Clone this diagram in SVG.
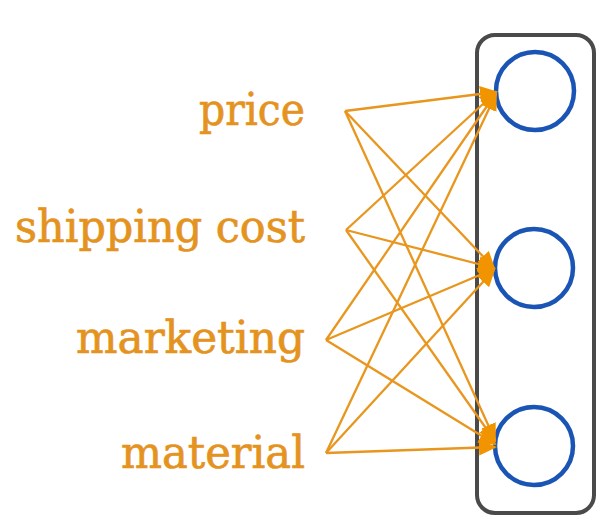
<svg xmlns="http://www.w3.org/2000/svg" width="608" height="523" viewBox="0 0 608 523">
<style>
.lbl{font-family:"DejaVu Serif","Liberation Serif",serif;font-size:45px;fill:#E4931F;stroke:#E4931F;stroke-width:0.7;text-anchor:end}
.edge{stroke:#E8961E;stroke-width:2.3;fill:none;marker-end:url(#arr)}
.node{fill:none;stroke:#1A55B5;stroke-width:4.5}
</style>
<defs>
<marker id="arr" markerUnits="userSpaceOnUse" markerWidth="18" markerHeight="16" refX="16" refY="8" orient="auto" viewBox="0 0 18 16">
<path d="M0,0 L18,8 L0,16 Z" fill="#F29400"/>
</marker>
</defs>
<rect width="608" height="523" fill="#ffffff"/>
<g id="layer">
<rect x="477" y="35" width="117" height="478" rx="18" ry="18" fill="none" stroke="#4A4A4A" stroke-width="4"/>
</g>
<g id="price"><text class="lbl" x="305" y="125" textLength="106" lengthAdjust="spacingAndGlyphs">price</text></g>
<g id="shipping-cost"><text class="lbl" x="305" y="242" textLength="290" lengthAdjust="spacingAndGlyphs">shipping cost</text></g>
<g id="marketing"><text class="lbl" x="305" y="353" textLength="229" lengthAdjust="spacingAndGlyphs">marketing</text></g>
<g id="material"><text class="lbl" x="305" y="468" textLength="184" lengthAdjust="spacingAndGlyphs">material</text></g>
<g id="n1"><circle class="node" cx="535" cy="91" r="39"/></g>
<g id="n2"><circle class="node" cx="534" cy="268" r="39"/></g>
<g id="n3"><circle class="node" cx="534" cy="446" r="39"/></g>
<g id="connectors">
<line class="edge" x1="345" y1="111" x2="496" y2="92"/>
<line class="edge" x1="345" y1="111" x2="494" y2="268"/>
<line class="edge" x1="345" y1="111" x2="495" y2="440"/>
<line class="edge" x1="346" y1="230" x2="496" y2="92"/>
<line class="edge" x1="346" y1="230" x2="494" y2="268"/>
<line class="edge" x1="346" y1="230" x2="495" y2="441"/>
<line class="edge" x1="326" y1="340" x2="496" y2="93"/>
<line class="edge" x1="326" y1="340" x2="494" y2="269"/>
<line class="edge" x1="326" y1="340" x2="495" y2="444"/>
<line class="edge" x1="326" y1="453" x2="496" y2="94"/>
<line class="edge" x1="326" y1="453" x2="494" y2="270"/>
<line class="edge" x1="326" y1="453" x2="495" y2="447"/>
</g>
</svg>
